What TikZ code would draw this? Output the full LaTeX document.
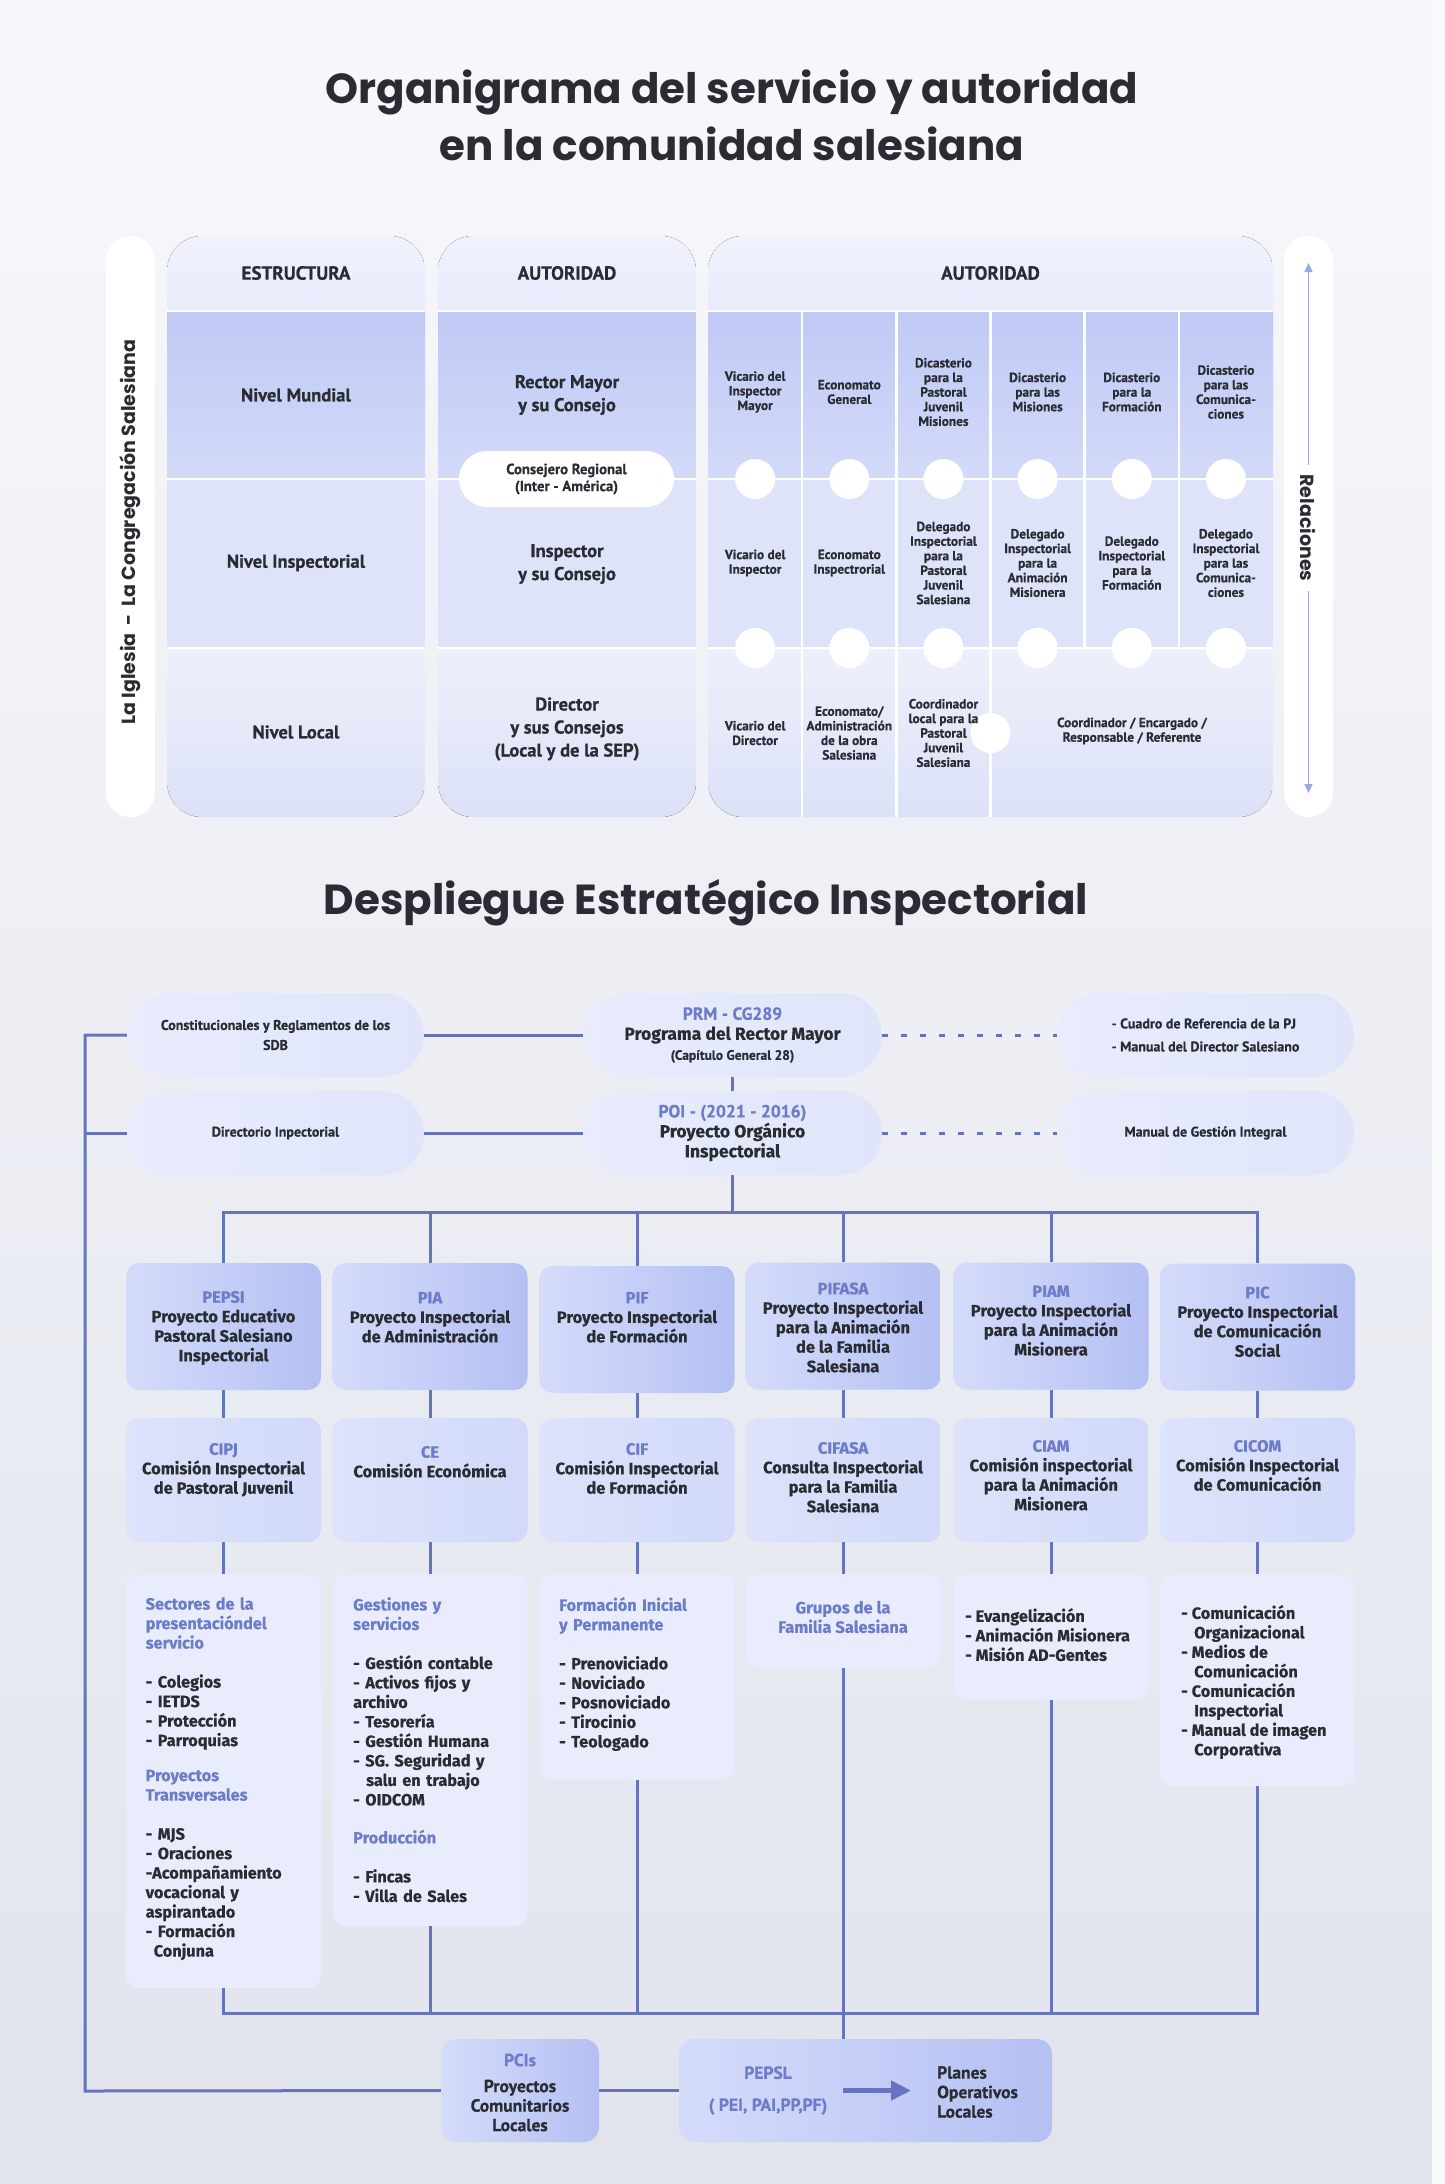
\documentclass[tikz,border=0pt]{standalone}
\usepackage{fontspec}
\setmainfont{Fira Sans}[BoldFeatures={FakeBold=0.5}]
\newfontfamily\fuentecond{PT Sans}[BoldFeatures={FakeBold=0.6}]
\newfontfamily\fuentetitulo{Poppins}
\usetikzlibrary{positioning,arrows.meta}

\definecolor{fondoA}{HTML}{F7F8FB}
\definecolor{fondoB}{HTML}{E1E4ED}
\definecolor{fondoC}{HTML}{F8F9FB}
\definecolor{texto}{HTML}{2A2C33}
\definecolor{acento}{HTML}{6D7CC8}
\definecolor{linea}{HTML}{6673BD}
\definecolor{flecha}{HTML}{9AA7E2}
\definecolor{cabA}{HTML}{F0F2FD}
\definecolor{cabB}{HTML}{E7EBFC}
\definecolor{munA}{HTML}{D3DAF9}
\definecolor{munB}{HTML}{BFC9F4}
\definecolor{insA}{HTML}{DEE3FA}
\definecolor{locA}{HTML}{EDF0FB}
\definecolor{locB}{HTML}{DCE1F7}
\definecolor{pilA}{HTML}{E9ECFC}
\definecolor{pilB}{HTML}{E0E5FB}
\definecolor{pA}{HTML}{D5DCFA}
\definecolor{pB}{HTML}{B4C0F3}
\definecolor{cA}{HTML}{DDE3FB}
\definecolor{cB}{HTML}{D2D9F9}
\definecolor{dA}{HTML}{E8ECFD}

\newcommand{\sigla}[1]{\textcolor{acento}{#1}}
\newcommand{\letragrande}{\normalfont\bfseries\fontsize{17.5}{20}\selectfont}

\tikzset{
  titulo/.style={font=\fuentetitulo\bfseries\fontsize{42}{57}\selectfont, text=texto, align=center},
  lateral/.style={font=\fuentetitulo\bfseries\fontsize{19}{22}\selectfont, text=texto},
  encab/.style={font=\fuentecond\bfseries\fontsize{19}{20}\selectfont, text=texto},
  nivel/.style={font=\fuentecond\bfseries\fontsize{18.5}{23}\selectfont, text=texto, align=center},
  celda/.style={font=\fuentecond\bfseries\fontsize{13.3}{14.6}\selectfont, text=texto, align=center, inner sep=0pt},
  pildora/.style={rounded corners=42pt, minimum width=297pt, minimum height=84pt, left color=pilA, right color=pilB,
    font=\fuentecond\bfseries\fontsize{14}{20}\selectfont, text=texto, align=center},
  pcaja/.style={rounded corners=13pt, minimum width=195pt, minimum height=127pt, left color=pA, right color=pB},
  ccaja/.style={rounded corners=13pt, minimum width=195pt, minimum height=124pt, left color=cA, right color=cB},
  dcaja/.style={rounded corners=13pt, minimum width=195pt, fill=dA, anchor=north},
  cajatexto/.style={font=\bfseries\fontsize{16.5}{19.5}\selectfont, text=texto, align=center, inner sep=0pt},
  lista/.style={font=\bfseries\fontsize{16.3}{19.5}\selectfont, text=texto, align=left, inner sep=0pt, anchor=north west},
  bajo/.style={font=\fuentecond\bfseries\fontsize{17.5}{19.5}\selectfont, text=texto, align=center, inner sep=0pt},
  conector/.style={draw=linea, line width=3pt},
  punteado/.style={draw=linea, line width=3pt, dash pattern=on 6pt off 13pt},
  flechagruesa/.style={draw=linea, line width=4.5pt, -{Triangle[length=20pt,width=19pt]}}
}

\begin{document}
\begin{tikzpicture}[x=1pt, y=-1pt, >={Triangle[length=9pt,width=8pt]}]
  \useasboundingbox (0,0) rectangle (1445,2184);

  % Fondo
  \fill[top color=fondoA, bottom color=fondoB] (0,0) rectangle (1432,2184);
  \fill[fondoC] (1432,0) rectangle (1445,2184);

  % Titulos
  \node[titulo] (titulo1) at (732,115) {Organigrama del servicio y autoridad\\en la comunidad salesiana};
  \node[titulo] (titulo2) at (706,903) {Despliegue Estratégico Inspectorial};

  % Pilares laterales
  \node[fill=white, rounded corners=24.5pt, minimum width=49pt, minimum height=581pt] (pilaizq) at (130.3,526.5) {};
  \node[fill=white, rounded corners=24.5pt, minimum width=49pt, minimum height=581pt] (pilader) at (1308.5,526.5) {};
  \node[lateral, rotate=90] (iglesia) at (130.3,532) {La Iglesia\ \ -\ \ La Congregación Salesiana};
  \coordinate (relA) at (1308.5,263);
  \coordinate (relB) at (1308.5,793);
  \draw[flecha, line width=1.2pt, <->] (relA) -- (relB);
  \node[lateral, rotate=-90, fill=white, inner xsep=10pt, inner ysep=2pt] (relaciones) at (1308.5,528) {Relaciones};

  % Columnas de la tabla
  \foreach \xa/\xb in {167/425, 438/696, 708/1273} {
    \begin{scope}
      \clip[rounded corners=35pt] (\xa,236) rectangle (\xb,817);
      \fill[top color=cabA, bottom color=cabB] (\xa,236) rectangle (\xb,311);
      \fill[top color=munB, bottom color=munA] (\xa,311) rectangle (\xb,479);
      \fill[insA] (\xa,479) rectangle (\xb,648);
      \fill[top color=locA, bottom color=locB] (\xa,648) rectangle (\xb,817);
    \end{scope}
    \draw[white, line width=2.5pt] (\xa,311) -- (\xb,311) (\xa,479) -- (\xb,479) (\xa,648) -- (\xb,648);
  }

  % Separadores y circulos de la autoridad
  \foreach \i in {1,...,5} \draw[white, line width=2.5pt] (708+94.17*\i,311) -- (708+94.17*\i,648);
  \foreach \i in {1,2,3} \draw[white, line width=2.5pt] (708+94.17*\i,648) -- (708+94.17*\i,817);
  \foreach \i in {0,...,5} {
    \fill[white] (755.1+94.17*\i,479) circle (20pt);
    \fill[white] (755.1+94.17*\i,648) circle (20pt);
  }
  \fill[white] (990.5,733) circle (20pt);

  % Encabezados
  \node[encab] (hestructura) at (296,273) {ESTRUCTURA};
  \node[encab] (hautoridad) at (567,273) {AUTORIDAD};
  \node[encab] (hautoridadb) at (990.5,273) {AUTORIDAD};

  % Niveles
  \node[nivel] (mundial) at (296,395) {Nivel Mundial};
  \node[nivel] (inspectorial) at (296,563) {Nivel Inspectorial};
  \node[nivel] (local) at (296,732) {Nivel Local};
  \node[nivel] (rector) at (567,395) {Rector Mayor\\y su Consejo};
  \node[nivel] (inspector) at (567,564) {Inspector\\y su Consejo};
  \node[nivel] (director) at (567,729) {Director\\y sus Consejos\\(Local y de la SEP)};
  \node[fill=white, rounded corners=28pt, minimum width=215pt, minimum height=56pt, align=center, text=texto,
    font=\fuentecond\bfseries\fontsize{14.7}{17}\selectfont] (consejero) at (566.5,479) {Consejero Regional\\(Inter - América)};

  % Celdas de la autoridad
  \foreach \t [count=\i from 0] in {{Vicario del\\Inspector\\Mayor}, {Economato\\General},
      {Dicasterio\\para la\\Pastoral\\Juvenil\\Misiones}, {Dicasterio\\para las\\Misiones},
      {Dicasterio\\para la\\Formación}, {Dicasterio\\para las\\Comunica-\\ciones}}
    \node[celda] (mun\i) at (755.1+94.17*\i,392) {\t};
  \foreach \t [count=\i from 0] in {{Vicario del\\Inspector}, {Economato\\Inspectrorial},
      {Delegado\\Inspectorial\\para la\\Pastoral\\Juvenil\\Salesiana}, {Delegado\\Inspectorial\\para la\\Animación\\Misionera},
      {Delegado\\Inspectorial\\para la\\Formación}, {Delegado\\Inspectorial\\para las\\Comunica-\\ciones}}
    \node[celda] (ins\i) at (755.1+94.17*\i,563) {\t};
  \foreach \t [count=\i from 0] in {{Vicario del\\Director}, {Economato/\\Administración\\de la obra\\Salesiana},
      {Coordinador\\local para la\\Pastoral\\Juvenil\\Salesiana}}
    \node[celda] (loc\i) at (755.1+94.17*\i,733) {\t};
  \node[celda] (coordinador) at (1132,731) {Coordinador / Encargado /\\Responsable / Referente};

  % Documentos de referencia
  \node[pildora] (constituciones) at (275.5,1035) {Constitucionales y Reglamentos de los\\SDB};
  \node[pildora] (directorio) at (275.5,1133) {Directorio Inpectorial};
  \node[pildora, minimum width=299pt, font=\fuentecond\bfseries\fontsize{17.5}{20}\selectfont] (prm) at (732.5,1035)
    {\sigla{PRM - CG289}\\{\letragrande Programa del Rector Mayor}\\{\fontsize{13.5}{20}\selectfont (Capítulo General 28)}};
  \node[pildora, minimum width=299pt, font=\fuentecond\bfseries\fontsize{17.5}{20}\selectfont] (poi) at (732.5,1133)
    {\sigla{POI - (2021 - 2016)}\\{\letragrande Proyecto Orgánico}\\{\letragrande Inspectorial}};
  \node[pildora, align=left, font=\fuentecond\bfseries\fontsize{14}{23}\selectfont] (cuadro) at (1205.5,1035)
    {- Cuadro de Referencia de la PJ\\- Manual del Director Salesiano};
  \node[pildora] (manual) at (1205.5,1133) {Manual de Gestión Integral};

  % Proyectos, comisiones y detalles
  \foreach \n/\x/\y in {pepsi/223.5/1326.5, pia/430/1326.5, pif/637/1329.5, pifasa/843/1326, piam/1051/1326, pic/1257.5/1327}
    \node[pcaja] (\n) at (\x,\y) {};
  \foreach \n/\x in {cipj/223.5, ce/430, cif/637, cifasa/843, ciam/1051, cicom/1257.5}
    \node[ccaja] (\n) at (\x,1480) {};
  \foreach \n/\x/\h in {det1/223.5/414, det2/430/352, det3/637/206, det4/843/94, det5/1051/126, det6/1257.5/212}
    \node[dcaja, minimum height=\h pt] (\n) at (\x,1574) {};

  \foreach \n/\dy/\sig/\txt in {
      pepsi/28pt/PEPSI/{Proyecto Educativo\\Pastoral Salesiano\\Inspectorial},
      pia/29pt/PIA/{Proyecto Inspectorial\\de Administración},
      pif/26pt/PIF/{Proyecto Inspectorial\\de Formación},
      pifasa/20pt/PIFASA/{Proyecto Inspectorial\\para la Animación\\de la Familia\\Salesiana},
      piam/23pt/PIAM/{Proyecto Inspectorial\\para la Animación\\Misionera},
      pic/23pt/PIC/{Proyecto Inspectorial\\de Comunicación\\Social},
      cipj/25pt/CIPJ/{Comisión Inspectorial\\de Pastoral Juvenil},
      ce/28pt/CE/{Comisión Económica},
      cif/25pt/CIF/{Comisión Inspectorial\\de Formación},
      cifasa/24pt/CIFASA/{Consulta Inspectorial\\para la Familia\\Salesiana},
      ciam/22pt/CIAM/{Comisión inspectorial\\para la Animación\\Misionera},
      cicom/22pt/CICOM/{Comisión Inspectorial\\de Comunicación}}
    \node[cajatexto, anchor=north] (\n-t) at ([yshift=-\dy]\n.north) {\sigla{\sig}\\\txt};

  \node[lista, text width=180pt] (det1t) at (145.5,1597)
    {\textcolor{acento}{Sectores de la\\presentacióndel\\servicio}\\[19.5pt]
     - Colegios\\- IETDS\\- Protección\\- Parroquias\\[15.5pt]
     \textcolor{acento}{Proyectos\\Transversales}\\[19.5pt]
     - MJS\\- Oraciones\\-Acompañamiento\\vocacional y\\aspirantado\\- Formación\\\hspace*{8pt}Conjuna};
  \node[lista, text width=180pt] (det2t) at (353,1597)
    {\textcolor{acento}{Gestiones y\\servicios}\\[19.5pt]
     - Gestión contable\\- Activos fijos y\\archivo\\- Tesorería\\- Gestión Humana\\- SG. Seguridad y\\\hspace*{13pt}salu en trabajo\\- OIDCOM\\[18.5pt]
     \textcolor{acento}{Producción}\\[19.5pt]
     - Fincas\\- Villa de Sales};
  \node[lista, text width=180pt] (det3t) at (559,1597)
    {\textcolor{acento}{Formación Inicial\\y Permanente}\\[19.5pt]
     - Prenoviciado\\- Noviciado\\- Posnoviciado\\- Tirocinio\\- Teologado};
  \node[cajatexto, text=acento] (det4t) at (843,1617) {Grupos de la\\Familia Salesiana};
  \node[lista] (det5t) at (965,1608) {- Evangelización\\- Animación Misionera\\- Misión AD-Gentes};
  \node[lista] (det6t) at (1181,1605)
    {- Comunicación\\\hspace*{13pt}Organizacional\\- Medios de\\\hspace*{13pt}Comunicación\\- Comunicación\\\hspace*{13pt}Inspectorial\\- Manual de imagen\\\hspace*{13pt}Corporativa};

  % Proyectos locales
  \node[pcaja, rounded corners=15pt, minimum width=158pt, minimum height=103pt] (pcis) at (520,2090.5) {};
  \node[pcaja, rounded corners=15pt, minimum width=373pt, minimum height=103pt] (pepsl) at (865.5,2090.5) {};
  \node[bajo] (pcist) at (520,2092.5) {\sigla{PCIs}\\[6.5pt]Proyectos\\Comunitarios\\Locales};
  \node[bajo] (pepslt) at (768,2090.5) {\sigla{PEPSL}\\[12.5pt]\sigla{( PEI, PAI,PP,PF)}};
  \node[bajo, align=left, anchor=west] (planes) at (937,2092) {Planes\\Operativos\\Locales};
  \draw[flechagruesa, shorten <=16pt, shorten >=26pt] (pepslt.east) -- (pepslt.east -| planes.west);

  % Conectores
  \coordinate (esqsup) at (85,1035);
  \coordinate (esqinf) at (85,2091);
  \coordinate (ramal) at (732.5,1212);
  \coordinate (barra) at (843,2013);
  \draw[conector] (constituciones) -- (prm);
  \draw[conector] (directorio) -- (poi);
  \draw[conector] (prm) -- (poi);
  \draw[punteado] (prm) -- (cuadro);
  \draw[punteado] (poi) -- (manual);
  \draw[conector] (constituciones.west) -- (esqsup) -- (esqinf) -- (pcis.west);
  \draw[conector] (directorio.west) -- (directorio.west -| esqsup);
  \draw[conector] (poi) -- (ramal);
  \draw[conector] (pepsi.north) |- (ramal) -| (pic.north);
  \foreach \n in {pia,pif,pifasa,piam} \draw[conector] (\n.north) -- (\n.north |- ramal);
  \foreach \a/\b in {pepsi/cipj, pia/ce, pif/cif, pifasa/cifasa, piam/ciam, pic/cicom} \draw[conector] (\a) -- (\b);
  \foreach \a/\b in {cipj/det1, ce/det2, cif/det3, cifasa/det4, ciam/det5, cicom/det6} \draw[conector] (\a) -- (\b);
  \draw[conector] (det1.south) |- (barra) -| (det6.south);
  \foreach \n in {det2,det3,det5} \draw[conector] (\n.south) -- (\n.south |- barra);
  \draw[conector] (det4.south) -- (det4.south |- pepsl.north);
  \draw[conector] (pcis) -- (pepsl);
\end{tikzpicture}
\end{document}
